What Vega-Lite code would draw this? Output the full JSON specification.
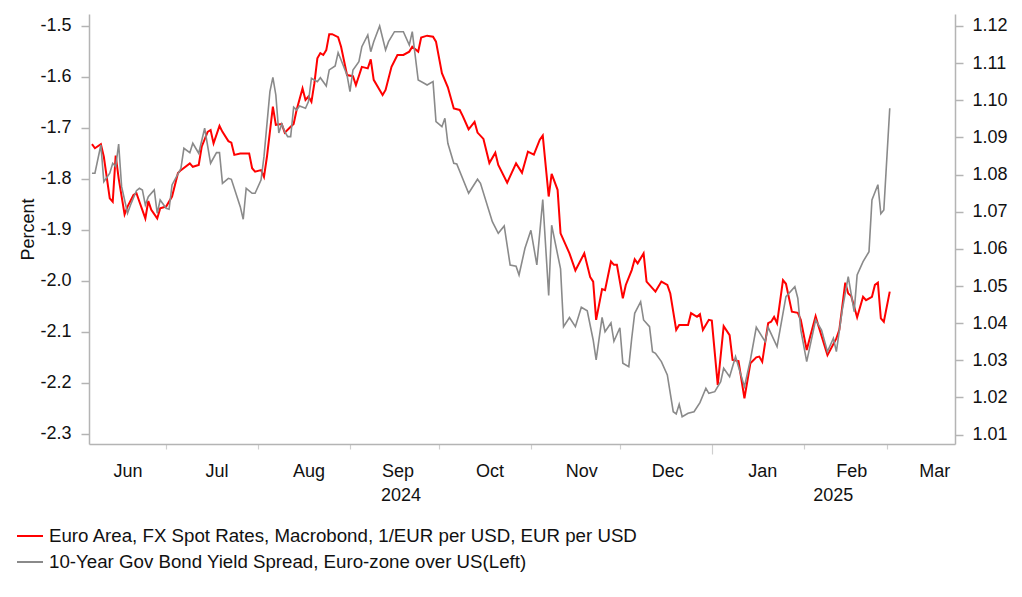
{
  "$schema": "https://vega.github.io/schema/vega-lite/v6.json",
  "width": 866,
  "height": 430,
  "autosize": {"type": "none"},
  "padding": {"left": 89, "top": 14, "right": 67, "bottom": 153},
  "background": "white",
  "config": {
    "font": "Liberation Sans",
    "view": {"stroke": null},
    "axis": {"grid": false, "labelFontSize": 18, "labelColor": "#111111", "domainColor": "#b4b4b4", "domainWidth": 1.5, "tickColor": "#b4b4b4", "tickWidth": 1.5, "titleFontWeight": "normal", "titleFontSize": 18, "titleColor": "#111111"},
    "legend": {"labelFontSize": 18.7, "labelColor": "#111111", "labelLimit": 1000}
  },
  "resolve": {"scale": {"y": "independent"}, "axis": {"x": "independent"}},
  "layer": [
    {
      "data": {"values": [
        {"d":"2024-06-06","v":1.0882},{"d":"2024-06-07","v":1.0871},{"d":"2024-06-09","v":1.0882},{"d":"2024-06-10","v":1.0848},{"d":"2024-06-12","v":1.0736},{"d":"2024-06-13","v":1.0727},{"d":"2024-06-14","v":1.0851},{"d":"2024-06-15","v":1.0790},{"d":"2024-06-17","v":1.0693},{"d":"2024-06-18","v":1.0714},{"d":"2024-06-20","v":1.0745},{"d":"2024-06-21","v":1.0750},{"d":"2024-06-22","v":1.0727},{"d":"2024-06-24","v":1.0682},{"d":"2024-06-25","v":1.0729},{"d":"2024-06-26","v":1.0705},{"d":"2024-06-28","v":1.0682},{"d":"2024-06-29","v":1.0709},
        {"d":"2024-07-01","v":1.0714},{"d":"2024-07-03","v":1.0741},{"d":"2024-07-05","v":1.0804},{"d":"2024-07-06","v":1.0812},{"d":"2024-07-09","v":1.0830},{"d":"2024-07-10","v":1.0821},{"d":"2024-07-12","v":1.0826},{"d":"2024-07-13","v":1.0875},{"d":"2024-07-15","v":1.0915},{"d":"2024-07-16","v":1.0920},{"d":"2024-07-17","v":1.0884},{"d":"2024-07-19","v":1.0931},{"d":"2024-07-20","v":1.0915},{"d":"2024-07-22","v":1.0890},{"d":"2024-07-23","v":1.0886},{"d":"2024-07-24","v":1.0853},{"d":"2024-07-26","v":1.0857},{"d":"2024-07-29","v":1.0857},{"d":"2024-07-30","v":1.0817},{"d":"2024-07-31","v":1.0808},
        {"d":"2024-08-02","v":1.0812},{"d":"2024-08-03","v":1.0794},{"d":"2024-08-04","v":1.0848},{"d":"2024-08-06","v":1.0983},{"d":"2024-08-07","v":1.0934},{"d":"2024-08-09","v":1.0936},{"d":"2024-08-10","v":1.0913},{"d":"2024-08-12","v":1.0929},{"d":"2024-08-13","v":1.0936},{"d":"2024-08-14","v":1.0974},{"d":"2024-08-16","v":1.1032},{"d":"2024-08-17","v":1.1001},{"d":"2024-08-18","v":1.1010},{"d":"2024-08-19","v":1.0996},{"d":"2024-08-20","v":1.1046},{"d":"2024-08-21","v":1.1113},{"d":"2024-08-22","v":1.1127},{"d":"2024-08-23","v":1.1122},{"d":"2024-08-24","v":1.1135},{"d":"2024-08-25","v":1.1178},{"d":"2024-08-26","v":1.1178},{"d":"2024-08-28","v":1.1170},{"d":"2024-08-29","v":1.1144},{"d":"2024-08-31","v":1.1068},
        {"d":"2024-09-02","v":1.1065},{"d":"2024-09-03","v":1.1041},{"d":"2024-09-05","v":1.1090},{"d":"2024-09-07","v":1.1086},{"d":"2024-09-08","v":1.1110},{"d":"2024-09-09","v":1.1055},{"d":"2024-09-11","v":1.1028},{"d":"2024-09-12","v":1.1014},{"d":"2024-09-13","v":1.1028},{"d":"2024-09-15","v":1.1090},{"d":"2024-09-17","v":1.1122},{"d":"2024-09-19","v":1.1122},{"d":"2024-09-21","v":1.1131},{"d":"2024-09-22","v":1.1144},{"d":"2024-09-24","v":1.1131},{"d":"2024-09-25","v":1.1169},{"d":"2024-09-27","v":1.1174},{"d":"2024-09-29","v":1.1171},{"d":"2024-09-30","v":1.1158},
        {"d":"2024-10-02","v":1.1073},{"d":"2024-10-04","v":1.1035},{"d":"2024-10-06","v":1.0978},{"d":"2024-10-08","v":1.0974},{"d":"2024-10-09","v":1.0958},{"d":"2024-10-11","v":1.0922},{"d":"2024-10-13","v":1.0942},{"d":"2024-10-14","v":1.0913},{"d":"2024-10-16","v":1.0896},{"d":"2024-10-18","v":1.0831},{"d":"2024-10-20","v":1.0859},{"d":"2024-10-21","v":1.0826},{"d":"2024-10-24","v":1.0778},{"d":"2024-10-27","v":1.0830},{"d":"2024-10-29","v":1.0805},{"d":"2024-10-31","v":1.0862},
        {"d":"2024-11-02","v":1.0854},{"d":"2024-11-04","v":1.0894},{"d":"2024-11-05","v":1.0905},{"d":"2024-11-07","v":1.0741},{"d":"2024-11-08","v":1.0802},{"d":"2024-11-10","v":1.0759},{"d":"2024-11-11","v":1.0642},{"d":"2024-11-14","v":1.0588},{"d":"2024-11-16","v":1.0542},{"d":"2024-11-19","v":1.0588},{"d":"2024-11-21","v":1.0524},{"d":"2024-11-22","v":1.0512},{"d":"2024-11-23","v":1.0409},{"d":"2024-11-25","v":1.0492},{"d":"2024-11-26","v":1.0489},{"d":"2024-11-28","v":1.0566},{"d":"2024-11-29","v":1.0557},{"d":"2024-11-30","v":1.0557},
        {"d":"2024-12-02","v":1.0467},{"d":"2024-12-03","v":1.0503},{"d":"2024-12-05","v":1.0543},{"d":"2024-12-06","v":1.0572},{"d":"2024-12-07","v":1.0561},{"d":"2024-12-09","v":1.0588},{"d":"2024-12-10","v":1.0512},{"d":"2024-12-13","v":1.0485},{"d":"2024-12-15","v":1.0512},{"d":"2024-12-17","v":1.0503},{"d":"2024-12-18","v":1.0480},{"d":"2024-12-20","v":1.0382},{"d":"2024-12-21","v":1.0395},{"d":"2024-12-24","v":1.0395},{"d":"2024-12-25","v":1.0427},{"d":"2024-12-27","v":1.0417},{"d":"2024-12-28","v":1.0424},{"d":"2024-12-29","v":1.0382},{"d":"2024-12-31","v":1.0409},
        {"d":"2025-01-01","v":1.0407},{"d":"2025-01-03","v":1.0234},{"d":"2025-01-05","v":1.0392},{"d":"2025-01-07","v":1.0368},{"d":"2025-01-08","v":1.0301},{"d":"2025-01-10","v":1.0298},{"d":"2025-01-12","v":1.0198},{"d":"2025-01-14","v":1.0292},{"d":"2025-01-16","v":1.0308},{"d":"2025-01-17","v":1.0310},{"d":"2025-01-18","v":1.0296},{"d":"2025-01-20","v":1.0400},{"d":"2025-01-21","v":1.0404},{"d":"2025-01-22","v":1.0417},{"d":"2025-01-23","v":1.0400},{"d":"2025-01-25","v":1.0516},{"d":"2025-01-26","v":1.0506},{"d":"2025-01-28","v":1.0431},{"d":"2025-01-30","v":1.0428},{"d":"2025-01-31","v":1.0409},
        {"d":"2025-02-02","v":1.0328},{"d":"2025-02-03","v":1.0359},{"d":"2025-02-05","v":1.0419},{"d":"2025-02-06","v":1.0392},{"d":"2025-02-09","v":1.0314},{"d":"2025-02-12","v":1.0359},{"d":"2025-02-13","v":1.0382},{"d":"2025-02-15","v":1.0509},{"d":"2025-02-16","v":1.0480},{"d":"2025-02-17","v":1.0473},{"d":"2025-02-19","v":1.0416},{"d":"2025-02-21","v":1.0471},{"d":"2025-02-22","v":1.0462},{"d":"2025-02-24","v":1.0471},{"d":"2025-02-25","v":1.0503},{"d":"2025-02-26","v":1.0509},{"d":"2025-02-27","v":1.0413},{"d":"2025-02-28","v":1.0404},{"d":"2025-03-02","v":1.0485}
      ]},
      "mark": {"type": "line", "strokeWidth": 2, "clip": true},
      "encoding": {
        "x": {"field": "d", "type": "temporal",
          "scale": {"type": "utc", "domain": [{"year": 2024, "month": 6, "date": 5, "utc": true}, {"year": 2025, "month": 3, "date": 24, "utc": true}]},
          "axis": {"orient": "bottom", "title": null, "labels": false, "ticks": true, "domain": true,
            "values": [{"year":2024,"month":7,"date":1,"utc":true},{"year":2024,"month":8,"date":1,"utc":true},{"year":2024,"month":9,"date":1,"utc":true},{"year":2024,"month":10,"date":1,"utc":true},{"year":2024,"month":11,"date":1,"utc":true},{"year":2024,"month":12,"date":1,"utc":true},{"year":2025,"month":1,"date":1,"utc":true},{"year":2025,"month":2,"date":1,"utc":true},{"year":2025,"month":3,"date":1,"utc":true}],
            "tickColor": "#cfcfcf", "tickWidth": 1.2,
            "tickSize": {"expr": "utcmonth(datum.value) == 0 ? 10 : 5"}}},
        "y": {"field": "v", "type": "quantitative",
          "scale": {"domain": [1.00748, 1.12323], "nice": false, "zero": false},
          "axis": {"orient": "right", "title": null, "values": [1.01,1.02,1.03,1.04,1.05,1.06,1.07,1.08,1.09,1.10,1.11,1.12], "format": ".2f", "tickSize": 8, "labelPadding": 9}},
        "color": {"datum": "Euro Area, FX Spot Rates, Macrobond, 1/EUR per USD, EUR per USD", "type": "nominal",
          "scale": {"domain": ["Euro Area, FX Spot Rates, Macrobond, 1/EUR per USD, EUR per USD", "10-Year Gov Bond Yield Spread, Euro-zone over US(Left)"], "range": ["#ff0000", "#8a8a8a"]},
          "legend": {"orient": "none", "legendX": -73, "legendY": 508, "title": null, "direction": "vertical", "symbolType": "stroke", "symbolSize": 676, "symbolStrokeWidth": 2, "labelOffset": 5, "rowPadding": 2}}
      }
    },
    {
      "data": {"values": [
        {"d":"2024-06-06","v":-1.789},{"d":"2024-06-07","v":-1.789},{"d":"2024-06-09","v":-1.7335},{"d":"2024-06-10","v":-1.8055},{"d":"2024-06-12","v":-1.789},{"d":"2024-06-13","v":-1.7694},{"d":"2024-06-14","v":-1.7761},{"d":"2024-06-15","v":-1.7316},{"d":"2024-06-16","v":-1.8153},{"d":"2024-06-18","v":-1.8675},{"d":"2024-06-19","v":-1.8513},{"d":"2024-06-21","v":-1.8232},{"d":"2024-06-22","v":-1.8185},{"d":"2024-06-23","v":-1.8218},{"d":"2024-06-24","v":-1.8513},{"d":"2024-06-25","v":-1.835},{"d":"2024-06-27","v":-1.8218},{"d":"2024-06-28","v":-1.8675},{"d":"2024-06-29","v":-1.8414},
        {"d":"2024-07-01","v":-1.8577},{"d":"2024-07-02","v":-1.8597},{"d":"2024-07-03","v":-1.812},{"d":"2024-07-06","v":-1.7792},{"d":"2024-07-07","v":-1.74},{"d":"2024-07-09","v":-1.7486},{"d":"2024-07-10","v":-1.7302},{"d":"2024-07-12","v":-1.7498},{"d":"2024-07-14","v":-1.7007},{"d":"2024-07-16","v":-1.7694},{"d":"2024-07-18","v":-1.7486},{"d":"2024-07-19","v":-1.7486},{"d":"2024-07-20","v":-1.8087},{"d":"2024-07-22","v":-1.7989},{"d":"2024-07-23","v":-1.8008},{"d":"2024-07-26","v":-1.8546},{"d":"2024-07-27","v":-1.8793},{"d":"2024-07-28","v":-1.8185},{"d":"2024-07-30","v":-1.8283},{"d":"2024-07-31","v":-1.8283},
        {"d":"2024-08-02","v":-1.8022},{"d":"2024-08-03","v":-1.7565},{"d":"2024-08-05","v":-1.6289},{"d":"2024-08-06","v":-1.6007},{"d":"2024-08-07","v":-1.6354},{"d":"2024-08-08","v":-1.71},{"d":"2024-08-09","v":-1.6923},{"d":"2024-08-10","v":-1.7074},{"d":"2024-08-11","v":-1.7172},{"d":"2024-08-12","v":-1.7172},{"d":"2024-08-13","v":-1.6595},{"d":"2024-08-14","v":-1.6648},{"d":"2024-08-15","v":-1.657},{"d":"2024-08-17","v":-1.6615},{"d":"2024-08-18","v":-1.6485},{"d":"2024-08-19","v":-1.6026},{"d":"2024-08-21","v":-1.6093},{"d":"2024-08-22","v":-1.6015},{"d":"2024-08-24","v":-1.6177},{"d":"2024-08-25","v":-1.5863},{"d":"2024-08-27","v":-1.5785},{"d":"2024-08-28","v":-1.5524},{"d":"2024-08-29","v":-1.5667},{"d":"2024-08-31","v":-1.5962},
        {"d":"2024-09-01","v":-1.6289},{"d":"2024-09-02","v":-1.5863},{"d":"2024-09-04","v":-1.5701},{"d":"2024-09-05","v":-1.5406},{"d":"2024-09-07","v":-1.5177},{"d":"2024-09-08","v":-1.5504},{"d":"2024-09-09","v":-1.5308},{"d":"2024-09-11","v":-1.5},{"d":"2024-09-13","v":-1.5471},{"d":"2024-09-14","v":-1.5308},{"d":"2024-09-16","v":-1.5112},{"d":"2024-09-19","v":-1.5112},{"d":"2024-09-21","v":-1.5373},{"d":"2024-09-22","v":-1.5112},{"d":"2024-09-24","v":-1.606},{"d":"2024-09-26","v":-1.6124},{"d":"2024-09-27","v":-1.6158},{"d":"2024-09-29","v":-1.6093},{"d":"2024-09-30","v":-1.6878},
        {"d":"2024-10-02","v":-1.6976},{"d":"2024-10-03","v":-1.6811},{"d":"2024-10-04","v":-1.7302},{"d":"2024-10-06","v":-1.7694},{"d":"2024-10-07","v":-1.7708},{"d":"2024-10-11","v":-1.8283},{"d":"2024-10-14","v":-1.8008},{"d":"2024-10-15","v":-1.8087},{"d":"2024-10-19","v":-1.884},{"d":"2024-10-21","v":-1.9068},{"d":"2024-10-23","v":-1.8925},{"d":"2024-10-25","v":-1.969},{"d":"2024-10-27","v":-1.9716},{"d":"2024-10-28","v":-1.9886},{"d":"2024-10-30","v":-1.9362},
        {"d":"2024-11-01","v":-1.9009},{"d":"2024-11-03","v":-1.969},{"d":"2024-11-05","v":-1.8405},{"d":"2024-11-07","v":-2.0288},{"d":"2024-11-08","v":-1.8911},{"d":"2024-11-11","v":-1.9768},{"d":"2024-11-12","v":-2.0901},{"d":"2024-11-14","v":-2.072},{"d":"2024-11-16","v":-2.0901},{"d":"2024-11-18","v":-2.052},{"d":"2024-11-20","v":-2.0589},{"d":"2024-11-22","v":-2.1162},{"d":"2024-11-23","v":-2.1554},{"d":"2024-11-25","v":-2.072},{"d":"2024-11-26","v":-2.0999},{"d":"2024-11-28","v":-2.0828},{"d":"2024-11-29","v":-2.1187},
        {"d":"2024-12-01","v":-2.0922},{"d":"2024-12-02","v":-2.1619},{"d":"2024-12-04","v":-2.1686},{"d":"2024-12-05","v":-2.1128},{"d":"2024-12-06","v":-2.0638},{"d":"2024-12-08","v":-2.041},{"d":"2024-12-09","v":-2.0769},{"d":"2024-12-11","v":-2.0901},{"d":"2024-12-12","v":-2.1391},{"d":"2024-12-13","v":-2.1423},{"d":"2024-12-15","v":-2.1587},{"d":"2024-12-17","v":-2.1848},{"d":"2024-12-19","v":-2.2569},{"d":"2024-12-20","v":-2.2614},{"d":"2024-12-21","v":-2.2424},{"d":"2024-12-22","v":-2.2667},{"d":"2024-12-24","v":-2.26},{"d":"2024-12-26","v":-2.2569},{"d":"2024-12-28","v":-2.2392},{"d":"2024-12-30","v":-2.211},{"d":"2024-12-31","v":-2.2208},
        {"d":"2025-01-02","v":-2.2176},{"d":"2025-01-04","v":-2.198},{"d":"2025-01-05","v":-2.1717},{"d":"2025-01-07","v":-2.1882},{"d":"2025-01-09","v":-2.1489},{"d":"2025-01-12","v":-2.2078},{"d":"2025-01-14","v":-2.1554},{"d":"2025-01-16","v":-2.0913},{"d":"2025-01-19","v":-2.1195},{"d":"2025-01-20","v":-2.0913},{"d":"2025-01-23","v":-2.1293},{"d":"2025-01-26","v":-2.0312},{"d":"2025-01-29","v":-2.0116},{"d":"2025-01-30","v":-2.0343},{"d":"2025-01-31","v":-2.0965},
        {"d":"2025-02-02","v":-2.1587},{"d":"2025-02-05","v":-2.0769},{"d":"2025-02-07","v":-2.0965},{"d":"2025-02-09","v":-2.1391},{"d":"2025-02-11","v":-2.1128},{"d":"2025-02-12","v":-2.1391},{"d":"2025-02-14","v":-2.0573},{"d":"2025-02-16","v":-1.992},{"d":"2025-02-18","v":-2.0606},{"d":"2025-02-19","v":-1.9886},{"d":"2025-02-21","v":-1.9625},{"d":"2025-02-23","v":-1.9429},{"d":"2025-02-24","v":-1.8414},{"d":"2025-02-26","v":-1.8114},{"d":"2025-02-27","v":-1.8685},{"d":"2025-02-28","v":-1.8611},{"d":"2025-03-02","v":-1.6615}
      ]},
      "mark": {"type": "line", "strokeWidth": 1.6, "clip": true},
      "encoding": {
        "x": {"field": "d", "type": "temporal",
          "axis": {"orient": "bottom", "title": null, "ticks": false, "tickSize": 0, "domain": false, "labelPadding": 18, "labelLineHeight": 24, "labelOverlap": false, "labelBound": false, "labelFlush": false, "labelAlign": "center", "labelBaseline": "top",
            "values": [{"year":2024,"month":6,"date":18,"utc":true},{"year":2024,"month":7,"date":18,"utc":true},{"year":2024,"month":8,"date":18,"utc":true},{"year":2024,"month":9,"date":17,"utc":true},{"year":2024,"month":10,"date":18,"utc":true},{"year":2024,"month":11,"date":18,"utc":true},{"year":2024,"month":12,"date":17,"utc":true},{"year":2025,"month":1,"date":18,"utc":true},{"year":2025,"month":2,"date":17,"utc":true},{"year":2025,"month":3,"date":17,"utc":true},{"year":2024,"month":9,"date":18,"hours":1,"utc":true},{"year":2025,"month":2,"date":10,"hours":19,"utc":true}],
            "labelExpr": "utchours(datum.value) > 0 ? ['', utcFormat(datum.value, '%Y')] : utcFormat(datum.value, '%b')"}},
        "y": {"field": "v", "type": "quantitative",
          "scale": {"domain": [-2.3203, -1.4765], "nice": false, "zero": false},
          "axis": {"orient": "left", "title": "Percent", "values": [-2.3,-2.2,-2.1,-2.0,-1.9,-1.8,-1.7,-1.6,-1.5], "labelExpr": "replace(format(datum.value, '.1f'), '\u2212', '-')", "tickSize": 8, "labelPadding": 10, "titlePadding": 2}},
        "color": {"datum": "10-Year Gov Bond Yield Spread, Euro-zone over US(Left)", "type": "nominal"}
      }
    }
  ]
}
